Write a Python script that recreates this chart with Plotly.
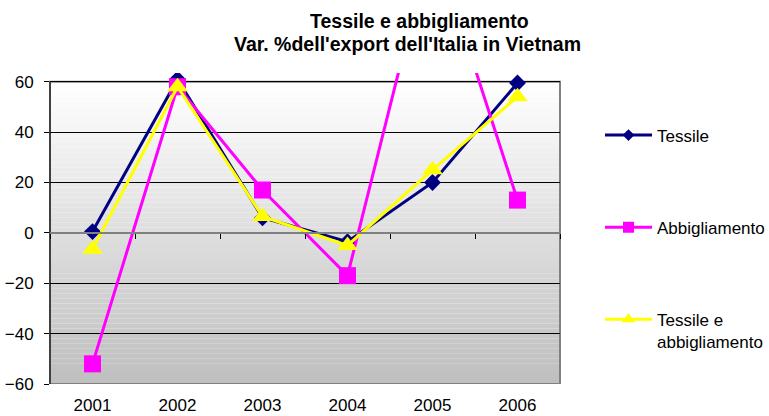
import plotly.graph_objects as go

years = ["2001", "2002", "2003", "2004", "2005", "2006"]
tessile = [0.5, 61, 6, -3.5, 20, 59.5]
abbigliamento = [-52, 58, 17, -17, 117.5, 13]
tessile_abb = [-6.5, 58, 6.5, -5, 25, 54]
names = ["Tessile", "Abbigliamento", "Tessile e<br>abbigliamento"]
title_lines = ["Tessile e abbigliamento", "Var. %dell'export dell'Italia in Vietnam"]
yticks = [-60, -40, -20, 0, 20, 40, 60]

W, H = 769, 416
ML, MR, MT, MB = 50, 209, 73, 32
PW, PH = W - ML - MR, H - MT - MB
FONT = "Liberation Sans, Arial, sans-serif"

fig = go.Figure()

series = [
    (tessile, names[0], "#000080", "diamond", 13, 9),
    (abbigliamento, names[1], "#FF00FF", "square", 17, 11),
    (tessile_abb, names[2], "#FFFF00", "triangle-up", 18, 12),
]
for i, (vals, name, col, sym, ms, lms) in enumerate(series):
    fig.add_trace(go.Scatter(
        x=years, y=vals, mode="lines+markers", name=name,
        line=dict(color=col, width=3),
        marker=dict(symbol=sym, size=ms, color=col, line=dict(width=0)),
        showlegend=False, cliponaxis=True,
    ))
for i, (vals, name, col, sym, ms, lms) in enumerate(series):
    fig.add_trace(go.Scatter(
        x=[None], y=[None], mode="lines+markers", name=name,
        line=dict(color=col, width=3),
        marker=dict(symbol=sym, size=lms, color=col, line=dict(width=0)),
        legendgroup=str(i), showlegend=True,
    ))

# gradient background between -60 and 60
shapes = []
n = 60
top = (255, 255, 255)
bot = (190, 190, 190)
for k in range(n):
    y0 = -60 + 120 * k / n
    y1 = -60 + 120 * (k + 1) / n
    t = (k + 0.5) / n
    c = tuple(round(bot[j] + (top[j] - bot[j]) * t) for j in range(3))
    shapes.append(dict(type="rect", xref="paper", yref="y", x0=0, x1=1,
                       y0=y0, y1=y1, line=dict(width=0),
                       fillcolor="rgb(%d,%d,%d)" % c, layer="below"))
shapes.append(dict(type="rect", xref="paper", yref="y", x0=0, x1=1,
                   y0=-60, y1=60, line=dict(color="#808080", width=2),
                   fillcolor="rgba(0,0,0,0)", layer="between"))
shapes.append(dict(type="line", xref="paper", yref="y", x0=0, x1=0,
                   y0=-60, y1=60, line=dict(color="#000000", width=1),
                   layer="between"))

annotations = []
for text, xpx, ypx in zip(title_lines, [419, 407], [21, 44]):
    annotations.append(dict(
        text="<b>%s</b>" % text, xref="paper", yref="paper",
        x=(xpx - ML) / PW, y=(H - MB - ypx) / PH,
        xanchor="center", yanchor="middle", showarrow=False,
        font=dict(family=FONT, size=19.5, color="#000000")))

fig.update_layout(
    width=W, height=H,
    margin=dict(l=ML, r=MR, t=MT, b=MB, autoexpand=False),
    paper_bgcolor="white", plot_bgcolor="white",
    font=dict(family=FONT, size=17, color="#000000"),
    shapes=shapes,
    annotations=annotations,
    xaxis=dict(type="category", categoryorder="array", categoryarray=years,
               range=[-0.5, 5.5], showgrid=False, showline=False, zeroline=False,
               ticks="outside", ticklen=6, tickcolor="rgba(0,0,0,0)",
               automargin=False,
               tickfont=dict(family=FONT, size=17, color="#000000")),
    xaxis2=dict(type="category", categoryorder="array", categoryarray=years,
                range=[-0.5, 5.5], overlaying="x", anchor="free",
                position=60 / 123.45, showline=True, linecolor="#808080", linewidth=2,
                ticks="outside", tickson="boundaries", ticklen=5, tickcolor="#000000",
                showticklabels=False, showgrid=False, zeroline=False, matches="x",
                automargin=False),
    yaxis=dict(range=[-60, 63.45], tickmode="array", tickvals=yticks,
               showgrid=True, gridcolor="#000000", gridwidth=1,
               zeroline=False, showline=False,
               ticks="outside", ticklen=5, tickcolor="#000000",
               ticklabelstandoff=7, automargin=False,
               tickfont=dict(family=FONT, size=17, color="#000000")),
    legend=dict(x=600 / W, xref="container", xanchor="left",
                y=1 - 117.5 / H, yref="container", yanchor="top",
                bgcolor="rgba(0,0,0,0)", borderwidth=0,
                itemwidth=47, tracegroupgap=67, traceorder="grouped",
                valign="top", maxheight=400,
                font=dict(family=FONT, size=17, color="#000000")),
)
# dummy trace for xaxis2 so that it renders
fig.add_trace(go.Scatter(x=years, y=[None] * len(years), xaxis="x2",
                         showlegend=False, hoverinfo="skip"))

fig.write_html(
    "out.html",
    config={"displayModeBar": False},
    post_script="document.body.style.margin='0';"
                "document.documentElement.style.overflow='hidden';"
                "document.body.style.overflow='hidden';",
)
